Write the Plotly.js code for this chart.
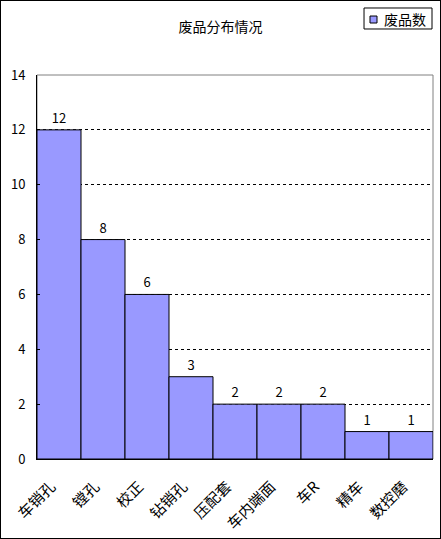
<!DOCTYPE html>
<html><head><meta charset="utf-8">
<script src="https://cdn.plot.ly/plotly-3.0.1.min.js"></script>
<style>
html,body{margin:0;padding:0;background:#fff;}
#chart{width:439px;height:537px;border:1px solid #000;}
</style></head>
<body><div id="chart"></div>
<script>
var categories = ["车销孔","镗孔","校正","钻销孔","压配套","车内端面","车R","精车","数控磨"];
var counts = [12, 8, 6, 3, 2, 2, 2, 1, 1];
var seriesName = "废品数";
var chartTitle = "废品分布情况";
var yTicks = [0,2,4,6,8,10,12,14];

var font = "SimSun, 'Noto Sans CJK SC', sans-serif";
var barColor = '#9999FF';
var trace = {
  type: 'bar', x: categories, y: counts, name: seriesName,
  marker: {color: barColor, line: {color: '#000', width: 1}},
  text: counts.map(String), textposition: 'outside', cliponaxis: false,
  textfont: {family: font, size: 13, color: '#000'},
  showlegend: false
};
var layout = {
  width: 439, height: 537,
  margin: {l: 36, r: 7, t: 74, b: 79},
  paper_bgcolor: '#fff', plot_bgcolor: '#fff',
  font: {family: font, color: '#000', size: 13},
  bargap: 0,
  title: {text: chartTitle, font: {family: font, size: 14, color: '#000'},
    x: 0.5, xref: 'container', y: 1 - 26/537, yref: 'container', yanchor: 'middle'},
  xaxis: {type: 'category', showline: true, linecolor: '#000', linewidth: 1,
    ticks: '', tickangle: -45, tickfont: {family: font, size: 15},
    ticklabelstandoff: 12, ticklabelshift: -8,
    showgrid: false, zeroline: false},
  yaxis: {range: [0, 14], tickvals: yTicks, showline: true, linecolor: '#000', linewidth: 1,
    ticks: 'inside', ticklen: 3, tickcolor: '#000', tickfont: {family: font, size: 13},
    ticklabelstandoff: 8,
    showgrid: true, gridcolor: '#000', gridwidth: 1, griddash: '3px,3px', zeroline: false},
  showlegend: false,
  shapes: [
    {type: 'rect', xref: 'paper', yref: 'paper', x0: 0, x1: 1, y0: 0, y1: 1,
      line: {color: '#808080', width: 1}, layer: 'below'},
    {type: 'rect', xref: 'paper', yref: 'paper', x0: 0.8258, x1: 0.9975, y0: 1.1198, y1: 1.1745,
      line: {color: '#000', width: 1}, fillcolor: '#fff'},
    {type: 'rect', xref: 'paper', yref: 'paper', x0: 0.8409, x1: 0.8586, y0: 1.1354, y1: 1.1536,
      line: {color: '#000', width: 1}, fillcolor: barColor}
  ],
  annotations: [
    {text: seriesName, xref: 'paper', yref: 'paper', x: 0.8712, y: 1.1471,
      xanchor: 'left', yanchor: 'middle', showarrow: false,
      font: {family: font, size: 14, color: '#000'}}
  ]
};
Plotly.newPlot('chart', [trace], layout, {displayModeBar: false, staticPlot: true});
</script></body></html>
